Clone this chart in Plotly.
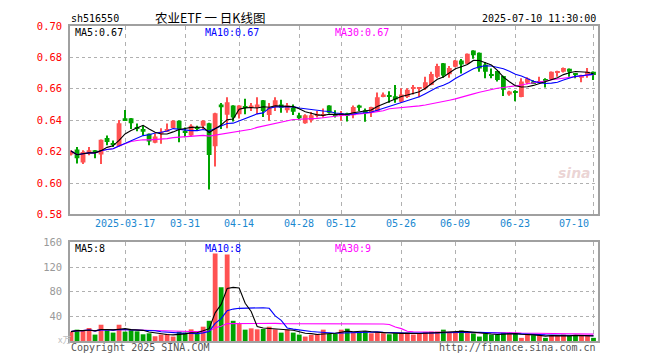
import plotly.graph_objects as go
import pandas as pd

dates = [
    "2025-03-04", "2025-03-05", "2025-03-06", "2025-03-07", "2025-03-10", "2025-03-11", "2025-03-12",
    "2025-03-13", "2025-03-14", "2025-03-17", "2025-03-18", "2025-03-19", "2025-03-20", "2025-03-21",
    "2025-03-24", "2025-03-25", "2025-03-26", "2025-03-27", "2025-03-28", "2025-03-31", "2025-04-01",
    "2025-04-02", "2025-04-03", "2025-04-07", "2025-04-08", "2025-04-09", "2025-04-10", "2025-04-11",
    "2025-04-14", "2025-04-15", "2025-04-16", "2025-04-17", "2025-04-18", "2025-04-21", "2025-04-22",
    "2025-04-23", "2025-04-24", "2025-04-25", "2025-04-28", "2025-04-29", "2025-04-30", "2025-05-06",
    "2025-05-07", "2025-05-08", "2025-05-09", "2025-05-12", "2025-05-13", "2025-05-14", "2025-05-15",
    "2025-05-16", "2025-05-19", "2025-05-20", "2025-05-21", "2025-05-22", "2025-05-23", "2025-05-26",
    "2025-05-27", "2025-05-28", "2025-05-29", "2025-05-30", "2025-06-03", "2025-06-04", "2025-06-05",
    "2025-06-06", "2025-06-09", "2025-06-10", "2025-06-11", "2025-06-12", "2025-06-13", "2025-06-16",
    "2025-06-17", "2025-06-18", "2025-06-19", "2025-06-20", "2025-06-23", "2025-06-24", "2025-06-25",
    "2025-06-26", "2025-06-27", "2025-06-30", "2025-07-01", "2025-07-02", "2025-07-03", "2025-07-04",
    "2025-07-07", "2025-07-08", "2025-07-09", "2025-07-10",
]

opens = [
    0.6181, 0.6213, 0.6130, 0.6192, 0.6209, 0.6181, 0.6286, 0.6254, 0.6234, 0.6412,
    0.6412, 0.6354, 0.6344, 0.6313, 0.6256, 0.6313, 0.6327, 0.6350, 0.6396, 0.6333,
    0.6302, 0.6354, 0.6365, 0.6380, 0.6234, 0.6500, 0.6434, 0.6494, 0.6438, 0.6490,
    0.6479, 0.6479, 0.6527, 0.6433, 0.6483, 0.6500, 0.6463, 0.6479, 0.6431, 0.6380,
    0.6400, 0.6430, 0.6430, 0.6494, 0.6434, 0.6428, 0.6444, 0.6432, 0.6494, 0.6463,
    0.6448, 0.6459, 0.6548, 0.6552, 0.6552, 0.6517, 0.6548, 0.6604, 0.6604, 0.6604,
    0.6625, 0.6677, 0.6763, 0.6692, 0.6740, 0.6781, 0.6760, 0.6844, 0.6830, 0.6754,
    0.6692, 0.6713, 0.6681, 0.6563, 0.6583, 0.6548, 0.6638, 0.6646, 0.6638, 0.6659,
    0.6663, 0.6704, 0.6708, 0.6727, 0.6698, 0.6671, 0.6688, 0.6708,
]
highs = [
    0.6208, 0.6229, 0.6209, 0.6229, 0.6211, 0.6277, 0.6302, 0.6271, 0.6402, 0.6465,
    0.6414, 0.6379, 0.6365, 0.6315, 0.6317, 0.6348, 0.6379, 0.6400, 0.6398, 0.6354,
    0.6375, 0.6365, 0.6400, 0.6383, 0.6448, 0.6510, 0.6546, 0.6496, 0.6496, 0.6536,
    0.6510, 0.6546, 0.6529, 0.6510, 0.6546, 0.6531, 0.6510, 0.6500, 0.6448, 0.6438,
    0.6452, 0.6458, 0.6475, 0.6496, 0.6463, 0.6458, 0.6448, 0.6494, 0.6498, 0.6475,
    0.6486, 0.6577, 0.6577, 0.6584, 0.6625, 0.6604, 0.6604, 0.6625, 0.6610, 0.6677,
    0.6708, 0.6760, 0.6765, 0.6745, 0.6783, 0.6790, 0.6825, 0.6846, 0.6832, 0.6771,
    0.6729, 0.6715, 0.6683, 0.6587, 0.6590, 0.6667, 0.6673, 0.6654, 0.6677, 0.6667,
    0.6710, 0.6715, 0.6735, 0.6729, 0.6700, 0.6690, 0.6733, 0.6710,
]
lows = [
    0.6175, 0.6125, 0.6121, 0.6177, 0.6157, 0.6121, 0.6240, 0.6229, 0.6232, 0.6396,
    0.6344, 0.6329, 0.6302, 0.6240, 0.6254, 0.6250, 0.6325, 0.6348, 0.6260, 0.6292,
    0.6296, 0.6333, 0.6344, 0.5959, 0.6105, 0.6344, 0.6348, 0.6392, 0.6411, 0.6438,
    0.6458, 0.6438, 0.6421, 0.6396, 0.6458, 0.6448, 0.6448, 0.6433, 0.6406, 0.6378,
    0.6386, 0.6417, 0.6415, 0.6442, 0.6417, 0.6396, 0.6392, 0.6413, 0.6459, 0.6390,
    0.6421, 0.6457, 0.6546, 0.6511, 0.6511, 0.6511, 0.6542, 0.6563, 0.6546, 0.6592,
    0.6623, 0.6667, 0.6671, 0.6671, 0.6738, 0.6698, 0.6758, 0.6792, 0.6708, 0.6667,
    0.6667, 0.6646, 0.6554, 0.6556, 0.6521, 0.6546, 0.6629, 0.6630, 0.6635, 0.6608,
    0.6656, 0.6677, 0.6704, 0.6677, 0.6667, 0.6642, 0.6671, 0.6656,
]
closes = [
    0.6204, 0.6157, 0.6198, 0.6209, 0.6192, 0.6275, 0.6261, 0.6246, 0.6381, 0.6400,
    0.6381, 0.6348, 0.6327, 0.6265, 0.6296, 0.6327, 0.6344, 0.6396, 0.6344, 0.6323,
    0.6365, 0.6348, 0.6396, 0.6178, 0.6444, 0.6483, 0.6515, 0.6417, 0.6494, 0.6483,
    0.6494, 0.6500, 0.6458, 0.6479, 0.6527, 0.6479, 0.6494, 0.6454, 0.6413, 0.6431,
    0.6431, 0.6440, 0.6440, 0.6448, 0.6428, 0.6444, 0.6432, 0.6484, 0.6480, 0.6444,
    0.6484, 0.6546, 0.6563, 0.6548, 0.6532, 0.6563, 0.6594, 0.6610, 0.6609, 0.6642,
    0.6694, 0.6746, 0.6685, 0.6733, 0.6781, 0.6754, 0.6823, 0.6813, 0.6730, 0.6708,
    0.6683, 0.6656, 0.6594, 0.6583, 0.6579, 0.6646, 0.6665, 0.6635, 0.6646, 0.6652,
    0.6708, 0.6713, 0.6733, 0.6708, 0.6688, 0.6688, 0.6708, 0.6688,
]
# volume in 万 (10k)
volumes = [
    15.2, 18.4, 17.1, 21.1, 10.4, 26.4, 18.4, 13.6, 26.4, 15.2,
    18.4, 15.7, 10.9, 12.5, 7.7, 10.4, 11.5, 7.2, 15.2, 13.6,
    18.9, 11.5, 23.2, 32.8, 142.0, 87.2, 140.5, 32.8, 27.5, 18.4,
    20.5, 18.9, 19.5, 23.2, 18.9, 13.6, 18.4, 13.6, 10.4, 7.2,
    9.9, 11.5, 18.4, 11.5, 11.5, 18.4, 20.0, 13.6, 13.6, 15.7,
    12.5, 13.6, 12.5, 10.9, 12.5, 12.5, 13.6, 10.4, 11.5, 14.7,
    15.2, 15.2, 18.4, 13.6, 13.6, 17.1, 13.6, 12.5, 7.2, 12.5,
    10.4, 10.4, 13.6, 13.6, 11.5, 5.1, 10.4, 9.4, 9.4, 5.1,
    9.4, 8.3, 10.4, 8.3, 9.4, 9.4, 9.4, 5.1,
]

tick_dates = ["2025-03-17", "2025-03-31", "2025-04-14", "2025-04-28", "2025-05-12",
              "2025-05-26", "2025-06-09", "2025-06-23", "2025-07-10"]
tick_labels = ["2025-03-17", "03-31", "04-14", "04-28", "05-12", "05-26", "06-09", "06-23", "07-10"]
price_ticks = [0.58, 0.60, 0.62, 0.64, 0.66, 0.68, 0.70]
vol_ticks = [40, 80, 120, 160]

RED = "#ff5252"
GREEN = "#00a300"
MONO = "DejaVu Sans Mono"

# the page body has an 8px margin: figure is placed at (8, 8) in the window
OFF = 8
W, H = 660 - OFF, 360 - OFF
L, R, T, B = 70 - OFF, 62, 20 - OFF, 19
PW, PH = W - L - R, H - T - B
XMIN, XMAX = -0.17, 87.75

def px(X):
    return (X - OFF - L) / PW

def py(Y):
    return (H - B - (Y - OFF)) / PH

n = len(closes)
x = list(range(n))
tick_idx = [dates.index(d) for d in tick_dates]
colors = [RED if c >= o else GREEN for o, c in zip(opens, closes)]

cs = pd.Series(closes)
ma5 = cs.rolling(5, min_periods=1).mean()
ma10 = cs.rolling(10, min_periods=1).mean()
ma30 = cs.rolling(30, min_periods=1).mean()
vs = pd.Series(volumes)
vma5 = vs.rolling(5, min_periods=1).mean()
vma10 = vs.rolling(10, min_periods=1).mean()
vma30 = vs.rolling(30, min_periods=1).mean()

body_base = [min(o, c) for o, c in zip(opens, closes)]
body_h = [max(abs(c - o), 0.0007) for o, c in zip(opens, closes)]
wick_h = [h - l for h, l in zip(highs, lows)]

fig = go.Figure()
fig.add_bar(x=x, y=wick_h, base=lows, width=0.18, marker=dict(color=colors, line=dict(width=0)),
            xaxis="x", yaxis="y", showlegend=False)
fig.add_bar(x=x, y=body_h, base=body_base, width=0.8, marker=dict(color=colors, line=dict(width=0)),
            xaxis="x", yaxis="y", showlegend=False)
for s, col in [(ma30, "#ff00ff"), (ma10, "#0000ff"), (ma5, "#000000")]:
    fig.add_scatter(x=x, y=s, mode="lines", line=dict(color=col, width=1.1), xaxis="x", yaxis="y",
                    showlegend=False)

fig.add_bar(x=x, y=volumes, width=0.8, marker=dict(color=colors, line=dict(width=0)),
            xaxis="x2", yaxis="y2", showlegend=False)
for s, col in [(vma30, "#ff00ff"), (vma10, "#0000ff"), (vma5, "#000000")]:
    fig.add_scatter(x=x, y=s, mode="lines", line=dict(color=col, width=1.1), xaxis="x2", yaxis="y2",
                    showlegend=False)

grid_common = dict(showline=True, mirror=True, linecolor="#a0a0a0", linewidth=1.5, zeroline=False)
main_bottom = py(212)
vol_top = py(240.5)

fig.update_layout(
    width=W, height=H, margin=dict(l=L, r=R, t=T, b=B),
    paper_bgcolor="white", plot_bgcolor="white", barmode="overlay",
    font=dict(family=MONO, size=10, color="#000"),
    xaxis=dict(domain=[0, 1], anchor="y", range=[XMIN, XMAX], tickvals=tick_idx,
               showticklabels=False, showgrid=True, gridcolor="#b0b0b0", griddash="4px,4px",
               gridwidth=1, ticks="", **grid_common),
    xaxis2=dict(domain=[0, 1], anchor="y2", matches="x", range=[XMIN, XMAX], tickvals=tick_idx,
                showticklabels=False, showgrid=True, gridcolor="#b0b0b0", griddash="4px,4px",
                gridwidth=1, ticks="", **grid_common),
    yaxis=dict(domain=[main_bottom, 1], anchor="x", range=[0.58, 0.70], tickvals=price_ticks,
               ticktext=["%.2f" % v for v in price_ticks], tickfont=dict(color="#ff0000", size=10.5, family=MONO),
               showgrid=True, gridcolor="#b0b0b0", griddash="dot", gridwidth=1, ticks="",
               ticklabelstandoff=4, **grid_common),
    yaxis2=dict(domain=[0, vol_top], anchor="x2", range=[0, 160], tickvals=vol_ticks,
                tickfont=dict(color="#999999", size=10.5, family=MONO),
                showgrid=True, gridcolor="#b0b0b0", griddash="dot", gridwidth=1, ticks="",
                ticklabelstandoff=4, **grid_common),
)

ann = []
def add_text(text, X, Y, anchor="left", color="#000", size=10, family=MONO, **kw):
    ann.append(dict(text=text, x=px(X), y=py(Y), xref="paper", yref="paper", xanchor=anchor,
                    yanchor="middle", showarrow=False, font=dict(color=color, size=size, family=family), **kw))

add_text("sh516550", 69, 12)
add_text("农业ETF 一 日K线图", 210, 11, anchor="center", size=12.5, family="Noto Sans CJK SC")
add_text("2025-07-10 11:30:00", 598, 12, anchor="right")
add_text("MA5:%.2f" % ma5.iloc[-1], 73, 27)
add_text("MA10:%.2f" % ma10.iloc[-1], 203, 27, color="#0000ff")
add_text("MA30:%.2f" % ma30.iloc[-1], 333, 27, color="#ff00ff")
add_text("MA5:8", 73, 246.5)
add_text("MA10:8", 203, 246.5, color="#0000ff")
add_text("MA30:9", 333, 246.5, color="#ff00ff")
add_text("Copyright 2025 SINA.COM", 69, 347.5, color="#555555")
add_text("http://finance.sina.com.cn", 598, 347.5, anchor="right", color="#555555")
add_text("x万", 56, 339, color="#c0c0c0", size=9, family="Noto Sans CJK SC")
add_text("<b><i>sina</i></b>", 574, 170, anchor="center", color="rgba(210,160,160,0.45)", size=14,
         family="DejaVu Sans")

for i, lab in zip(tick_idx, tick_labels):
    Xc = 70 + (i - XMIN) * PW / (XMAX - XMIN)
    if lab == "07-10":
        add_text(lab, 591, 221, anchor="right", color="#1a88d0")
    else:
        add_text(lab, Xc, 221, anchor="center", color="#1a88d0")

fig.update_layout(annotations=ann)
fig.write_html("out.html")
